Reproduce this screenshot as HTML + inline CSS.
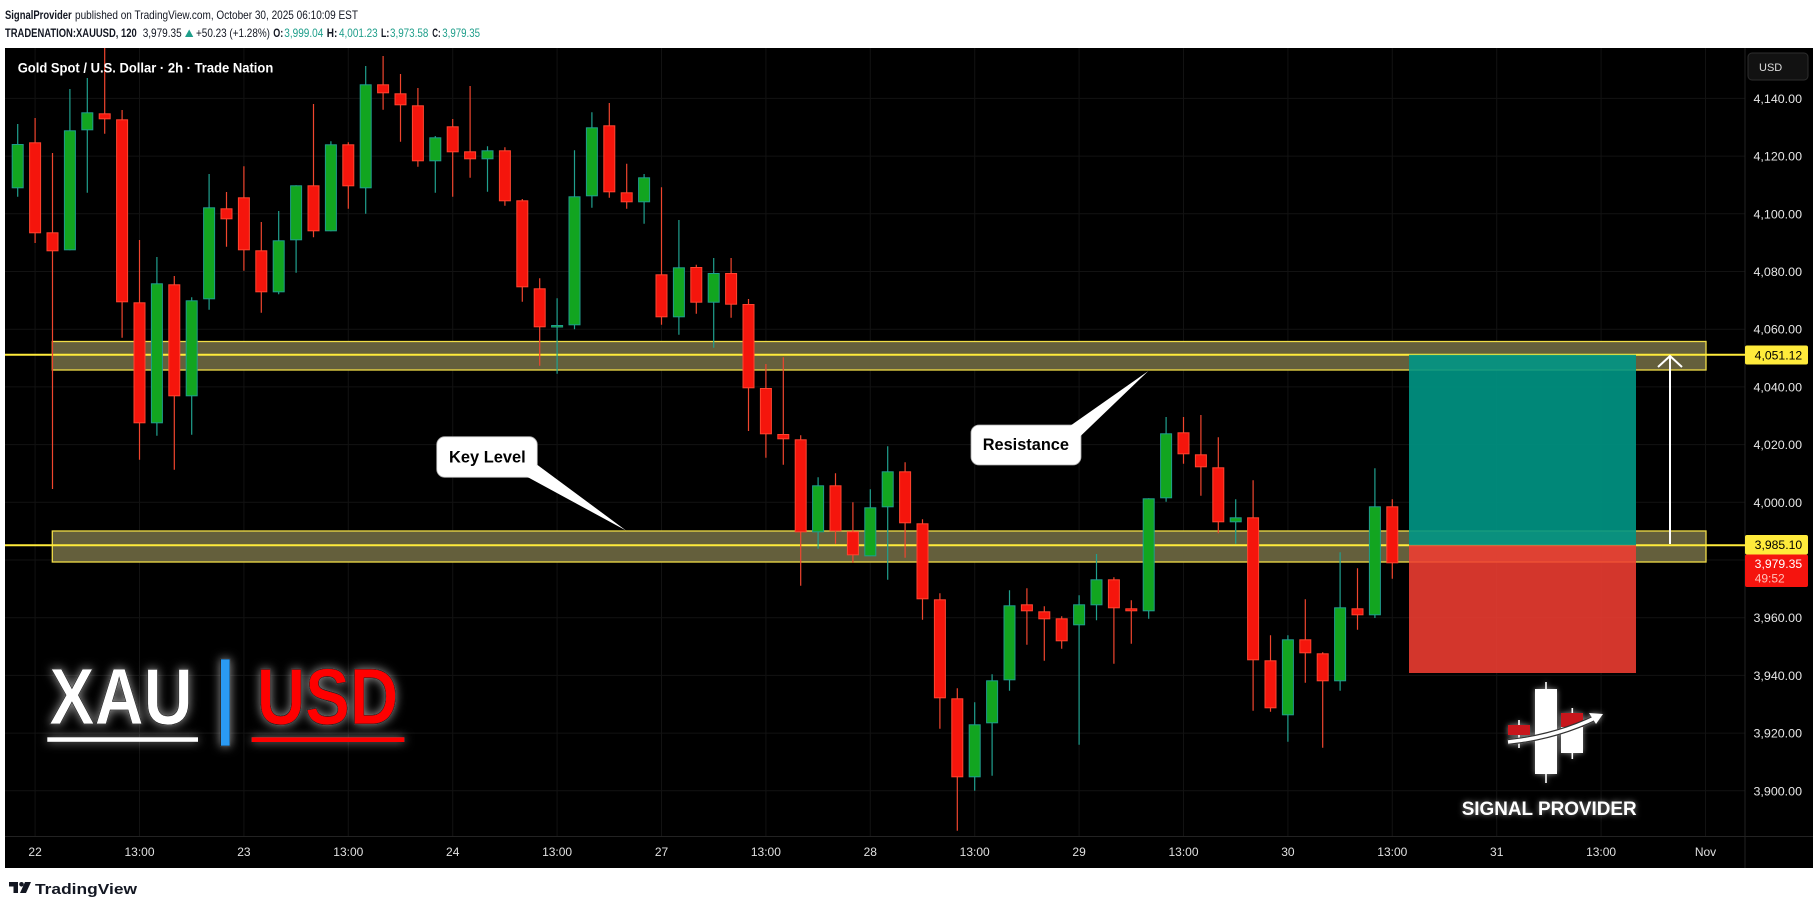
<!DOCTYPE html>
<html><head><meta charset="utf-8"><style>
html,body{margin:0;padding:0;background:#fff;width:1820px;height:908px;overflow:hidden}
svg{display:block}
text{font-family:"Liberation Sans",Arial,sans-serif}
.gw path,.rw path{fill:none}
</style></head><body>
<svg width="1820" height="908" viewBox="0 0 1820 908" xmlns="http://www.w3.org/2000/svg">
<defs>
<filter id="glow" x="-20%" y="-30%" width="140%" height="160%">
<feGaussianBlur in="SourceAlpha" stdDeviation="5" result="b"/>
<feFlood flood-color="#ffffff" flood-opacity="0.6"/>
<feComposite in2="b" operator="in" result="g"/>
<feMerge><feMergeNode in="g"/><feMergeNode in="SourceGraphic"/></feMerge>
</filter>
<filter id="glow2" x="-20%" y="-30%" width="140%" height="160%">
<feGaussianBlur in="SourceAlpha" stdDeviation="3" result="b"/>
<feFlood flood-color="#ffffff" flood-opacity="0.55"/>
<feComposite in2="b" operator="in" result="g"/>
<feMerge><feMergeNode in="g"/><feMergeNode in="SourceGraphic"/></feMerge>
</filter>
</defs>
<rect x="0" y="0" width="1820" height="908" fill="#fff"/>
<!-- header -->
<g font-size="12" fill="#131722">
<text x="5" y="19" font-weight="bold" textLength="66.7" lengthAdjust="spacingAndGlyphs">SignalProvider</text>
<text x="75" y="19" textLength="283" lengthAdjust="spacingAndGlyphs">published on TradingView.com, October 30, 2025 06:10:09 EST</text>
<text x="5" y="37" font-weight="bold" textLength="131.7" lengthAdjust="spacingAndGlyphs">TRADENATION:XAUUSD, 120</text>
<text x="142.7" y="37" textLength="39" lengthAdjust="spacingAndGlyphs">3,979.35</text>
<polygon points="185,37 189.2,29.5 193.3,37" fill="#1e9e8a"/>
<text x="196" y="37" textLength="74" lengthAdjust="spacingAndGlyphs">+50.23 (+1.28%)</text>
<text x="273.3" y="37" font-weight="bold" textLength="10" lengthAdjust="spacingAndGlyphs">O:</text>
<text x="284.3" y="37" fill="#1e9e8a" textLength="39" lengthAdjust="spacingAndGlyphs">3,999.04</text>
<text x="326.7" y="37" font-weight="bold" textLength="10.6" lengthAdjust="spacingAndGlyphs">H:</text>
<text x="339" y="37" fill="#1e9e8a" textLength="38.7" lengthAdjust="spacingAndGlyphs">4,001.23</text>
<text x="381" y="37" font-weight="bold" textLength="8.3" lengthAdjust="spacingAndGlyphs">L:</text>
<text x="390" y="37" fill="#1e9e8a" textLength="38.3" lengthAdjust="spacingAndGlyphs">3,973.58</text>
<text x="432.3" y="37" font-weight="bold" textLength="8.4" lengthAdjust="spacingAndGlyphs">C:</text>
<text x="442.3" y="37" fill="#1e9e8a" textLength="37.7" lengthAdjust="spacingAndGlyphs">3,979.35</text>
</g>
<!-- chart background -->
<rect x="5" y="48" width="1808" height="820" fill="#000"/>
<!-- grid -->
<g stroke="#121212" stroke-width="1">
<path d="M35.1 48V836M139.5 48V836M243.9 48V836M348.3 48V836M452.7 48V836M557.1 48V836M661.5 48V836M765.9 48V836M870.3 48V836M974.7 48V836M1079.1 48V836M1183.5 48V836M1287.9 48V836M1392.3 48V836M1496.7 48V836M1601.1 48V836M1705.5 48V836"/>
<path d="M5 98.4H1745M5 156.1H1745M5 213.8H1745M5 271.5H1745M5 329.2H1745M5 386.9H1745M5 444.6H1745M5 502.3H1745M5 560H1745M5 617.7H1745M5 675.4H1745M5 733.1H1745M5 790.8H1745"/>
</g>
<path d="M1745 48V868M5 836.5H1813" stroke="#222" stroke-width="1"/>
<!-- zones -->
<rect x="52.3" y="341.5" width="1653.7" height="28.5" fill="#645f3c" stroke="#f0dc46" stroke-width="1.3"/>
<rect x="52.3" y="531" width="1653.7" height="31" fill="#645f3c" stroke="#f0dc46" stroke-width="1.3"/>
<path d="M5 354.8H1745M5 545.3H1745" stroke="#ffeb3b" stroke-width="2"/>
<!-- candles -->
<g class="gw" stroke="#20a08e" stroke-width="1.2">
<path d="M17.7 124V196.7M69.9 89V250.3M87.3 78V192.7M156.9 257V435.7M191.7 297.3V434.7M209.1 174V309.7M278.7 211V294.3M296.1 185.3V272.7M330.9 141.3V231.3M365.7 66V213.7M435.3 136V192.7M487.5 146.3V191.7M557.1 298.3V373.7M574.5 150.3V329.3M591.9 112.3V207.7M644.1 174V223.7M678.9 220V334.7M713.7 258V347.7M818.1 477.3V548.7M870.3 489.3V556.3M887.7 446.3V579.7M974.7 702.3V790.7M992.1 674.3V775.7M1009.5 590.3V690.7M1079.1 595.3V744.7M1096.5 554V620.3M1148.7 498.3V618.7M1166.1 417V501.7M1235.7 499.3V543.7M1287.9 635.3V741.7M1340.1 552.3V690.7M1374.9 468.3V618"/>
</g>
<g class="rw" stroke="#f0452e" stroke-width="1.2">
<path d="M35.1 118V243M52.5 153V489M104.7 48V133.7M122.1 110V337.7M139.5 240V459.7M174.3 276V469.7M226.5 192V246.7M243.9 166.3V270.7M261.3 222V312.7M313.5 104V237.3M348.3 142.3V208.7M383.1 56V109.7M400.5 74V141.7M417.9 88V166.7M452.7 119V196.7M470.1 86V177.7M504.9 147.3V205.7M522.3 199V301.7M539.7 278.3V365.7M609.3 103V197.7M626.7 163.7V208.7M661.5 187.3V324.7M696.3 264.7V313.7M731.1 258V317.7M748.5 299V431M765.9 364V457.7M783.3 357.3V464.7M800.7 435.3V585.7M835.5 473.3V543.7M852.9 502.3V562.7M905.1 462.3V557.7M922.5 519.3V619.7M939.9 593.3V728.7M957.3 688.3V830.7M1026.9 588.3V644.7M1044.3 606.3V660.7M1061.7 616.3V648.7M1113.9 577.3V663.7M1131.3 600.3V643.7M1183.5 417V463.7M1200.9 415V495.7M1218.3 437.3V533.3M1253.1 480.3V710.7M1270.5 635.3V711.7M1305.3 599.3V682.7M1322.7 652.3V747.7M1357.5 568.3V629.7M1392.3 499.3V578.7"/>
</g>
<g fill="#12a520" stroke="#1f9d8d" stroke-width="1">
<rect x="12.2" y="144.5" width="11" height="43.3"/>
<rect x="64.4" y="130.8" width="11" height="119"/>
<rect x="81.8" y="112.8" width="11" height="17"/>
<rect x="151.4" y="283.8" width="11" height="139"/>
<rect x="186.2" y="300.8" width="11" height="95"/>
<rect x="203.6" y="207.8" width="11" height="91"/>
<rect x="273.2" y="240.8" width="11" height="51"/>
<rect x="290.6" y="185.8" width="11" height="54"/>
<rect x="325.4" y="144.8" width="11" height="86"/>
<rect x="360.2" y="84.8" width="11" height="103"/>
<rect x="429.8" y="137.8" width="11" height="23"/>
<rect x="482" y="150.8" width="11" height="8"/>
<rect x="551.6" y="325.5" width="11" height="1.5"/>
<rect x="569" y="196.8" width="11" height="128"/>
<rect x="586.4" y="127.8" width="11" height="68"/>
<rect x="638.6" y="177.8" width="11" height="24"/>
<rect x="673.4" y="267.8" width="11" height="49"/>
<rect x="708.2" y="273.5" width="11" height="28.7"/>
<rect x="812.6" y="485.8" width="11" height="46"/>
<rect x="864.8" y="507.8" width="11" height="48"/>
<rect x="882.2" y="471.8" width="11" height="35"/>
<rect x="969.2" y="724.8" width="11" height="52"/>
<rect x="986.6" y="680.8" width="11" height="42"/>
<rect x="1004" y="605.8" width="11" height="74"/>
<rect x="1073.6" y="604.8" width="11" height="20"/>
<rect x="1091" y="579.8" width="11" height="25"/>
<rect x="1143.2" y="498.8" width="11" height="112"/>
<rect x="1160.6" y="433.8" width="11" height="64"/>
<rect x="1230.2" y="517.8" width="11" height="4"/>
<rect x="1282.4" y="639.8" width="11" height="75"/>
<rect x="1334.6" y="607.8" width="11" height="73"/>
<rect x="1369.4" y="506.8" width="11" height="108"/>
</g>
<g fill="#f5150c" stroke="#ff4530" stroke-width="1">
<rect x="29.6" y="142.8" width="11" height="90"/>
<rect x="47" y="232.8" width="11" height="18"/>
<rect x="99.2" y="113.8" width="11" height="5"/>
<rect x="116.6" y="119.8" width="11" height="182"/>
<rect x="134" y="302.8" width="11" height="120"/>
<rect x="168.8" y="284.8" width="11" height="111"/>
<rect x="221" y="208.8" width="11" height="10"/>
<rect x="238.4" y="197.8" width="11" height="52"/>
<rect x="255.8" y="250.8" width="11" height="41"/>
<rect x="308" y="185.8" width="11" height="45"/>
<rect x="342.8" y="144.8" width="11" height="41"/>
<rect x="377.6" y="84.8" width="11" height="8"/>
<rect x="395" y="93.8" width="11" height="11"/>
<rect x="412.4" y="105.8" width="11" height="55"/>
<rect x="447.2" y="126.8" width="11" height="25"/>
<rect x="464.6" y="151.8" width="11" height="7"/>
<rect x="499.4" y="150.8" width="11" height="50"/>
<rect x="516.8" y="200.8" width="11" height="86"/>
<rect x="534.2" y="288.8" width="11" height="38"/>
<rect x="603.8" y="125.8" width="11" height="66"/>
<rect x="621.2" y="192.8" width="11" height="9"/>
<rect x="656" y="274.8" width="11" height="42"/>
<rect x="690.8" y="267.5" width="11" height="34.7"/>
<rect x="725.6" y="273.5" width="11" height="30.7"/>
<rect x="743" y="304.5" width="11" height="83.3"/>
<rect x="760.4" y="388.5" width="11" height="45.3"/>
<rect x="777.8" y="434.5" width="11" height="4.3"/>
<rect x="795.2" y="439.8" width="11" height="92"/>
<rect x="830" y="485.8" width="11" height="45"/>
<rect x="847.4" y="531.8" width="11" height="23"/>
<rect x="899.6" y="471.8" width="11" height="51"/>
<rect x="917" y="523.8" width="11" height="75"/>
<rect x="934.4" y="599.8" width="11" height="98"/>
<rect x="951.8" y="698.8" width="11" height="78"/>
<rect x="1021.4" y="604.8" width="11" height="6"/>
<rect x="1038.8" y="611.8" width="11" height="7"/>
<rect x="1056.2" y="618.8" width="11" height="22"/>
<rect x="1108.4" y="579.8" width="11" height="28"/>
<rect x="1125.8" y="608.8" width="11" height="2"/>
<rect x="1178" y="432.8" width="11" height="21"/>
<rect x="1195.4" y="454.8" width="11" height="12"/>
<rect x="1212.8" y="467.8" width="11" height="54"/>
<rect x="1247.6" y="517.8" width="11" height="142"/>
<rect x="1265" y="660.8" width="11" height="47"/>
<rect x="1299.8" y="639.8" width="11" height="13"/>
<rect x="1317.2" y="653.8" width="11" height="27"/>
<rect x="1352" y="608.8" width="11" height="6"/>
<rect x="1386.8" y="506.8" width="11" height="56"/>
</g>
<!-- position box -->
<rect x="1409" y="354.8" width="227" height="190.5" fill="rgb(0,150,133)" fill-opacity="0.9"/>
<rect x="1409" y="545.3" width="227" height="127.7" fill="rgb(240,62,50)" fill-opacity="0.88"/>
<path d="M1670 544V357" stroke="#fff" stroke-width="2"/>
<polyline points="1658,367 1670,356 1682,367" fill="none" stroke="#fff" stroke-width="2"/>
<!-- callouts -->
<g>
<rect x="436.7" y="436.7" width="100.6" height="40.6" rx="8" fill="#fff" stroke="#aaa" stroke-width="0.8"/>
<polygon points="527,476.8 537.5,465 626,530.5" fill="#fff"/>
<text x="449" y="462.7" font-size="16.5" font-weight="bold" fill="#000" textLength="76.7" lengthAdjust="spacingAndGlyphs">Key Level</text>
<rect x="971" y="425" width="110" height="40" rx="8" fill="#fff" stroke="#aaa" stroke-width="0.8"/>
<polygon points="1070.5,425.6 1080.6,436 1148.3,371" fill="#fff"/>
<text x="982.7" y="450" font-size="16.5" font-weight="bold" fill="#000" textLength="86.3" lengthAdjust="spacingAndGlyphs">Resistance</text>
</g>
<!-- title -->
<text x="17.7" y="72.3" font-size="13.5" font-weight="bold" fill="#fff" textLength="255.6" lengthAdjust="spacingAndGlyphs">Gold Spot / U.S. Dollar · 2h · Trade Nation</text>
<!-- XAU|USD logo -->
<g filter="url(#glow)">
<text x="49.3" y="724" font-size="80" font-weight="bold" fill="#fff" stroke="#222" stroke-width="0.8" textLength="143.4" lengthAdjust="spacingAndGlyphs">XAU</text>
<rect x="47.3" y="737.3" width="150.7" height="4.5" fill="#fff"/>
<rect x="220.7" y="659" width="9.3" height="87" fill="#2b9af3" stroke="#111" stroke-width="0.6"/>
<text x="256.7" y="724" font-size="80" font-weight="bold" fill="#ff0000" stroke="#222" stroke-width="0.8" textLength="141.6" lengthAdjust="spacingAndGlyphs">USD</text>
<rect x="251.7" y="737.3" width="152.6" height="4.7" fill="#ff0000"/>
</g>
<!-- SIGNAL PROVIDER logo -->
<g filter="url(#glow2)">
<path d="M1546 682V783M1519 720V748M1572.3 708V759" stroke="#fff" stroke-width="1.6"/>
<rect x="1535" y="689" width="22" height="85" fill="#fff"/>
<rect x="1508" y="725" width="22" height="10" fill="#c8141c"/>
<rect x="1561" y="713" width="22" height="14" fill="#c8141c"/>
<rect x="1561" y="727" width="22" height="26" fill="#fff"/>
<path d="M1508 742 Q1556 737 1597 717" stroke="#333" stroke-width="6" fill="none"/>
<path d="M1508 742 Q1556 737 1597 717" stroke="#fff" stroke-width="3.5" fill="none"/>
<polygon points="1603,714 1589,713 1596,724" fill="#fff"/>
<text x="1461.7" y="815" font-size="19" font-weight="bold" fill="#fff" textLength="175" lengthAdjust="spacingAndGlyphs">SIGNAL PROVIDER</text>
</g>
<!-- price axis -->
<rect x="1748" y="53" width="60" height="27" rx="4" fill="#121212" stroke="#2e2e2e"/>
<text x="1759" y="71" font-size="11" fill="#ddd">USD</text>
<g font-size="12" fill="#e6e6e6" text-anchor="end">
<text x="1802" y="102.9" textLength="48.5" lengthAdjust="spacingAndGlyphs">4,140.00</text>
<text x="1802" y="160.6" textLength="48.5" lengthAdjust="spacingAndGlyphs">4,120.00</text>
<text x="1802" y="218.3" textLength="48.5" lengthAdjust="spacingAndGlyphs">4,100.00</text>
<text x="1802" y="276" textLength="48.5" lengthAdjust="spacingAndGlyphs">4,080.00</text>
<text x="1802" y="333.7" textLength="48.5" lengthAdjust="spacingAndGlyphs">4,060.00</text>
<text x="1802" y="391.4" textLength="48.5" lengthAdjust="spacingAndGlyphs">4,040.00</text>
<text x="1802" y="449.1" textLength="48.5" lengthAdjust="spacingAndGlyphs">4,020.00</text>
<text x="1802" y="506.8" textLength="48.5" lengthAdjust="spacingAndGlyphs">4,000.00</text>
<text x="1802" y="622.2" textLength="48.5" lengthAdjust="spacingAndGlyphs">3,960.00</text>
<text x="1802" y="679.9" textLength="48.5" lengthAdjust="spacingAndGlyphs">3,940.00</text>
<text x="1802" y="737.6" textLength="48.5" lengthAdjust="spacingAndGlyphs">3,920.00</text>
<text x="1802" y="795.3" textLength="48.5" lengthAdjust="spacingAndGlyphs">3,900.00</text>
</g>
<rect x="1745" y="345.5" width="63" height="19" rx="2" fill="#ffeb3b"/>
<text x="1754.7" y="359.3" font-size="12" fill="#000" textLength="47.5" lengthAdjust="spacingAndGlyphs">4,051.12</text>
<rect x="1745" y="535" width="63" height="19.5" rx="2" fill="#ffeb3b"/>
<text x="1754.7" y="549" font-size="12" fill="#000" textLength="47.5" lengthAdjust="spacingAndGlyphs">3,985.10</text>
<rect x="1745" y="554.5" width="63" height="32.5" rx="2" fill="#f5140e"/>
<text x="1754.7" y="568" font-size="12" fill="#fff" textLength="47.5" lengthAdjust="spacingAndGlyphs">3,979.35</text>
<text x="1754.7" y="582.5" font-size="12" fill="#ffc0b8" textLength="30" lengthAdjust="spacingAndGlyphs">49:52</text>
<!-- time axis -->
<g font-size="12" fill="#e0e0e0" text-anchor="middle">
<text x="35.1" y="856">22</text>
<text x="139.5" y="856">13:00</text>
<text x="243.9" y="856">23</text>
<text x="348.3" y="856">13:00</text>
<text x="452.7" y="856">24</text>
<text x="557.1" y="856">13:00</text>
<text x="661.5" y="856">27</text>
<text x="765.9" y="856">13:00</text>
<text x="870.3" y="856">28</text>
<text x="974.7" y="856">13:00</text>
<text x="1079.1" y="856">29</text>
<text x="1183.5" y="856">13:00</text>
<text x="1287.9" y="856">30</text>
<text x="1392.3" y="856">13:00</text>
<text x="1496.7" y="856">31</text>
<text x="1601.1" y="856">13:00</text>
<text x="1705.5" y="856">Nov</text>
</g>
<!-- footer -->
<g fill="#131722">
<path d="M9 882h9v11h-4.5v-6.5H9z"/>
<circle cx="21.5" cy="884.3" r="2.3"/>
<path d="M25 882h6l-5 11h-6z"/>
<text x="35" y="894" font-size="15" font-weight="bold" textLength="102" lengthAdjust="spacingAndGlyphs">TradingView</text>
</g>
</svg>
</body></html>
